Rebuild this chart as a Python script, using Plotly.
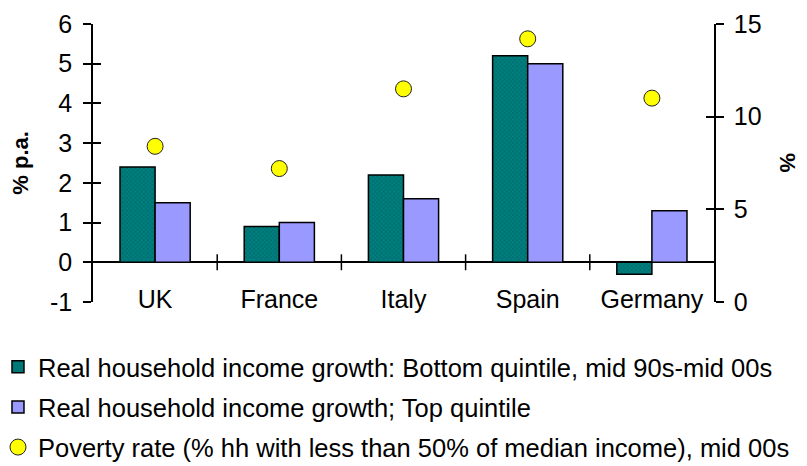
import plotly.graph_objects as go

# Countries and series values
countries = ["UK", "France", "Italy", "Spain", "Germany"]
bottom_quintile = [2.4, 0.9, 2.2, 5.2, -0.3]
top_quintile = [1.5, 1.0, 1.6, 5.0, 1.3]
poverty_rate = [8.4, 7.2, 11.5, 14.2, 11.0]

left_ticks = [-1, 0, 1, 2, 3, 4, 5, 6]
left_labels = ["-1", "0", "1", "2", "3", "4", "5", "6"]
right_ticks = [0, 5, 10, 15]

name_bottom = "Real household income growth: Bottom quintile, mid 90s-mid 00s"
name_top = "Real household income growth; Top quintile"
name_pov = "Poverty rate (% hh with less than 50% of median income), mid 00s"

FONT = "Liberation Sans, Arial, sans-serif"
FS = 25

fig = go.Figure()

fig.add_trace(go.Bar(
    x=countries, y=bottom_quintile, name=name_bottom, legendgroup="a",
    marker=dict(color="#008080", line=dict(color="black", width=1.5),
                pattern=dict(shape="x", size=3, solidity=0.3,
                             fgcolor="#003c3c", bgcolor="#008080")),
))
fig.add_trace(go.Bar(
    x=countries, y=top_quintile, name=name_top, legendgroup="b",
    marker=dict(color="#9999FF", line=dict(color="black", width=1.5)),
))
fig.add_trace(go.Scatter(
    x=countries, y=poverty_rate, name=name_pov, legendgroup="c",
    yaxis="y2", mode="markers",
    marker=dict(color="#FFFF00", size=16, line=dict(color="#222", width=1)),
))

# Cross ticks on the value axes: companion overlay axes draw the inner half
fig.add_trace(go.Scatter(x=countries[:1], y=[0], yaxis="y3", mode="markers",
                         marker=dict(opacity=0), showlegend=False, hoverinfo="skip"))
fig.add_trace(go.Scatter(x=countries[:1], y=[0], yaxis="y4", mode="markers",
                         marker=dict(opacity=0), showlegend=False, hoverinfo="skip"))

# Category separators crossing the zero line
for i in range(len(countries) - 1):
    fig.add_shape(type="line", xref="x", yref="y", x0=i + 0.5, x1=i + 0.5,
                  y0=-0.2, y1=0.2, line=dict(color="black", width=1.5))

axis_common = dict(showgrid=False, showline=True, linecolor="black", linewidth=1.5,
                   tickcolor="black", tickwidth=1.5, ticklen=8)

fig.update_layout(
    width=807, height=466,
    margin=dict(l=93, r=93, t=24, b=164, autoexpand=False),
    paper_bgcolor="white", plot_bgcolor="white",
    font=dict(family=FONT, size=FS, color="black"),
    barmode="group", bargap=0.435, bargroupgap=0,
    xaxis=dict(range=[-0.5, 4.5], showgrid=False, showline=False, ticks="",
               anchor="free", position=0.072,
               tickfont=dict(family=FONT, size=FS, color="black")),
    yaxis=dict(range=[-1, 6], tickvals=left_ticks, ticktext=left_labels, ticks="outside",
               zeroline=True, zerolinecolor="black", zerolinewidth=1.5,
               ticklabelstandoff=6, **axis_common),
    yaxis3=dict(range=[-1, 6], tickvals=left_ticks, ticks="inside", overlaying="y",
                showticklabels=False, zeroline=False, **axis_common),
    yaxis2=dict(range=[0, 15], tickvals=right_ticks, ticks="outside", side="right",
                overlaying="y", zeroline=False, ticklabelstandoff=5, **axis_common),
    yaxis4=dict(range=[0, 15], tickvals=right_ticks, ticks="inside", side="right",
                overlaying="y", showticklabels=False, zeroline=False, **axis_common),
    legend=dict(x=-0.153, y=-0.15, xanchor="left", yanchor="top", tracegroupgap=4,
                font=dict(family=FONT, size=25.5, color="black"),
                bgcolor="rgba(0,0,0,0)", traceorder="grouped"),
    showlegend=True,
    annotations=[
        dict(text="<b>% p.a.</b>", xref="paper", yref="paper", x=-0.118, y=0.5,
             xanchor="center", yanchor="middle",
             showarrow=False, textangle=-90, font=dict(family=FONT, size=22)),
        dict(text="<b>%</b>", xref="paper", yref="paper", x=1.119, y=0.5,
             xanchor="center", yanchor="middle",
             showarrow=False, textangle=90, font=dict(family=FONT, size=22)),
    ],
)

fig.write_html("out.html")
